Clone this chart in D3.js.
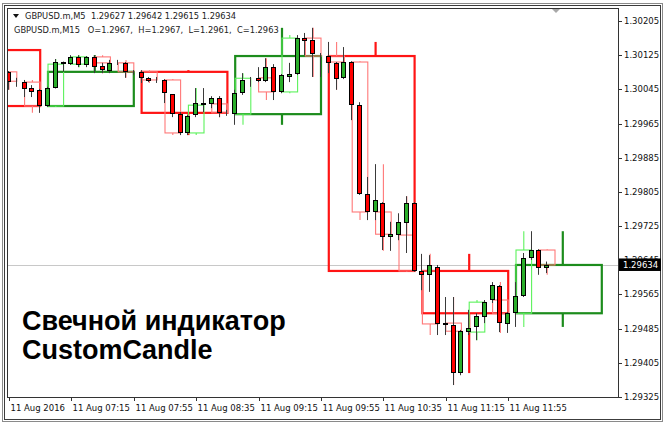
<!DOCTYPE html>
<html><head><meta charset="utf-8">
<script src="https://cdn.jsdelivr.net/npm/d3@7"></script>
<style>body{margin:0;background:#fff}svg{display:block}</style>
</head><body><svg id="c" width="670" height="430"></svg>
<script>
// ---------- data ----------
const headerM5 = "GBPUSD.m,M5  1.29627 1.29642 1.29615 1.29634";
const headerM15 = "GBPUSD.m,M15   O=1.2967,  H=1.2967,  L=1.2961,  C=1.2963";
const titleLines = ["Свечной индикатор", "CustomCandle"];
const lastPrice = 1.29634;

// M5 bars, every 5 minutes starting at 06:30
const m5Start = "06:30";
const m5Open = [1.30086,1.30086,1.30065,1.30062,1.30048,1.30044,
 1.30006,1.30048,1.30109,1.30104,1.30121,1.30102,1.30121,1.30100,1.30088,1.30107,1.30107,1.30086,
 1.30086,1.30072,1.30067,1.30067,1.30034,1.29987,1.29943,1.29985,1.30013,1.30011,1.30025,1.29990,
 1.29987,1.30036,1.30072,1.30072,1.30065,1.30097,1.30039,1.30074,1.30081,1.30165,1.30161,1.30125,
 1.30123,1.30107,1.30072,1.30109,1.30008,1.29800,1.29758,1.29779,1.29699,1.29704,1.29732,1.29779,
 1.29620,1.29611,1.29629,1.29498,1.29493,1.29381,1.29477,1.29489,1.29512,1.29552,1.29584,1.29496,
 1.29521,1.29562,1.29650,1.29669,1.29627];
const m5High = [1.30088,1.30088,1.30072,1.30067,1.30055,1.30046,
 1.30051,1.30116,1.30110,1.30125,1.30125,1.30123,1.30125,1.30107,1.30114,1.30114,1.30109,1.30090,
 1.30090,1.30074,1.30074,1.30069,1.30034,1.29992,1.29985,1.30048,1.30048,1.30029,1.30029,1.29997,
 1.30044,1.30083,1.30074,1.30097,1.30118,1.30104,1.30081,1.30107,1.30172,1.30177,1.30189,1.30130,
 1.30156,1.30109,1.30144,1.30111,1.30015,1.29840,1.29870,1.29781,1.29735,1.29755,1.29795,1.29781,
 1.29660,1.29657,1.29634,1.29559,1.29559,1.29482,1.29529,1.29521,1.29552,1.29594,1.29587,1.29524,
 1.29594,1.29662,1.29713,1.29671,1.29642];
const m5Low = [1.30081,1.30044,1.30051,1.30027,1.30027,1.29990,
 1.30004,1.30047,1.30086,1.30102,1.30097,1.30097,1.30083,1.30083,1.30083,1.30102,1.30072,1.30079,
 1.30060,1.30062,1.30060,1.30013,1.29980,1.29938,1.29938,1.29980,1.29992,1.30001,1.29980,1.29983,
 1.29962,1.30032,1.30051,1.30062,1.30062,1.30020,1.30036,1.30062,1.30079,1.30125,1.30074,1.30074,
 1.30083,1.30044,1.30069,1.29973,1.29798,1.29739,1.29739,1.29669,1.29667,1.29692,1.29662,1.29618,
 1.29575,1.29571,1.29470,1.29470,1.29353,1.29376,1.29470,1.29458,1.29498,1.29545,1.29477,1.29475,
 1.29489,1.29559,1.29646,1.29611,1.29615];
const m5Close = [1.30086,1.30062,1.30064,1.30046,1.30039,1.30006,
 1.30048,1.30109,1.30104,1.30121,1.30102,1.30121,1.30097,1.30090,1.30107,1.30109,1.30086,1.30086,
 1.30072,1.30065,1.30067,1.30036,1.29987,1.29943,1.29983,1.30013,1.30008,1.30025,1.29990,1.29990,
 1.30036,1.30067,1.30071,1.30065,1.30097,1.30039,1.30079,1.30081,1.30165,1.30158,1.30128,1.30123,
 1.30107,1.30069,1.30109,1.30008,1.29800,1.29758,1.29786,1.29699,1.29706,1.29735,1.29779,1.29620,
 1.29611,1.29634,1.29496,1.29493,1.29381,1.29479,1.29486,1.29514,1.29547,1.29587,1.29498,1.29521,
 1.29562,1.29650,1.29669,1.29627,1.29634];

// H1 candles drawn by the indicator
const h1Start = ["06:00","07:00","08:00","09:00","10:00","11:00","12:00"];
const h1Open  = [1.30137,1.30006,1.30086,1.29987,1.30123,1.29620,1.29521];
const h1High  = [1.30150,1.30125,1.30090,1.30189,1.30156,1.29660,1.29713];
const h1Low   = [1.29990,1.30004,1.29938,1.29962,1.29618,1.29381,1.29489];
const h1Close = [1.30006,1.30086,1.29990,1.30123,1.29620,1.29521,1.29634];

const priceTicks = [1.30205,1.30125,1.30045,1.29965,1.29885,1.29805,1.29725,1.29645,1.29565,1.29485,1.29405,1.29325];
const timeTicks = ["06:35","07:15","07:55","08:35","09:15","09:55","10:35","11:15","11:55"];
const timeTickLabels = ["11 Aug 2016","11 Aug 07:15","11 Aug 07:55","11 Aug 08:35","11 Aug 09:15","11 Aug 09:55","11 Aug 10:35","11 Aug 11:15","11 Aug 11:55"];

// ---------- drawing ----------
const toMin = s => (+s.slice(0,2))*60 + (+s.slice(3));
const svg = d3.select("#c");
const P = {l:8, r:618, t:9, b:397};
const x = d3.scaleLinear().domain([toMin("07:00"), toMin("11:55")]).range([48, 508.2]);
const y = d3.scaleLinear().domain([1.29325, 1.30205]).range([397, 21]);
const FONT = "'DejaVu Sans', Tahoma, sans-serif";

svg.append("rect").attr("width",670).attr("height",430).attr("fill","#fff");
// window frame
svg.append("rect").attr("x",2.5).attr("y",3.5).attr("width",660).attr("height",418)
  .attr("fill","none").attr("stroke","#8a8a8a").attr("stroke-width",1);
svg.append("rect").attr("x",4.5).attr("y",5.5).attr("width",656).attr("height",414)
  .attr("fill","none").attr("stroke","#3c3c3c").attr("stroke-width",1);

svg.append("defs").append("clipPath").attr("id","pc").append("rect")
  .attr("x",P.l).attr("y",P.t).attr("width",P.r-P.l).attr("height",P.b-P.t);
const g = svg.append("g").attr("clip-path","url(#pc)");

// current price line
g.append("line").attr("x1",P.l).attr("x2",P.r).attr("y1",Math.round(y(lastPrice))+0.5).attr("y2",Math.round(y(lastPrice))+0.5)
  .attr("stroke","#c8c8c8");

// build M5 records
const t0 = toMin(m5Start);
const m5 = m5Open.map((o,i)=>({t:t0+5*i,o,h:m5High[i],l:m5Low[i],c:m5Close[i]}));
// M15 aggregated from M5
const m15 = d3.groups(m5, d=>Math.floor(d.t/15)).map(([k,arr])=>({
  t:k*15, o:arr[0].o, c:arr[arr.length-1].c,
  h:d3.max(arr,d=>d.h), l:d3.min(arr,d=>d.l)}));
const h1 = h1Start.map((s,i)=>({t:toMin(s),o:h1Open[i],h:h1High[i],l:h1Low[i],c:h1Close[i]}));

function drawBoxes(data, span, wickOff, bull, bear, w){
  data.forEach(d=>{
    const col = d.c >= d.o ? bull : bear;
    const x1 = x(d.t), x2 = x(d.t+span), xm = x(d.t+wickOff);
    const top = y(Math.max(d.o,d.c)), bot = y(Math.min(d.o,d.c));
    g.append("line").attr("x1",xm).attr("x2",xm).attr("y1",y(d.h)).attr("y2",top)
      .attr("stroke",col).attr("stroke-width",w);
    g.append("line").attr("x1",xm).attr("x2",xm).attr("y1",bot).attr("y2",y(d.l))
      .attr("stroke",col).attr("stroke-width",w);
    g.append("rect").attr("x",x1).attr("y",top).attr("width",x2-x1).attr("height",Math.max(0,bot-top))
      .attr("fill","none").attr("stroke",col).attr("stroke-width",w);
  });
}
drawBoxes(h1, 55, 30, "#1c8c1c", "#ff1414", 2.2);
drawBoxes(m15, 10, 5, "#5cf25c", "#ff7878", 1.1);

// M5 candles
m5.forEach(d=>{
  const cx = Math.round(x(d.t));
  g.append("line").attr("x1",cx-0.5).attr("x2",cx-0.5).attr("y1",y(d.h)).attr("y2",y(d.l))
    .attr("stroke","#3a3a3a").attr("stroke-width",1);
  const top = Math.round(y(Math.max(d.o,d.c))), bot = Math.round(y(Math.min(d.o,d.c)));
  g.append("rect").attr("x",cx-2.5).attr("y",top+0.5).attr("width",4).attr("height",Math.max(0,bot-top-1))
    .attr("fill", d.c>d.o ? "#2aae2a" : (d.c<d.o ? "#ff0000" : "#000"))
    .attr("stroke","#000").attr("stroke-width",1);
});

// plot border
svg.append("rect").attr("x",P.l-0.5).attr("y",P.t-0.5).attr("width",P.r-P.l+1).attr("height",P.b-P.t+1)
  .attr("fill","none").attr("stroke","#333");

// price axis
priceTicks.forEach(p=>{
  const yy = Math.round(y(p))+0.5;
  svg.append("line").attr("x1",P.r+0.5).attr("x2",P.r+4).attr("y1",yy).attr("y2",yy).attr("stroke","#333");
  svg.append("text").attr("x",P.r+6).attr("y",yy).attr("dy","0.35em")
    .attr("font-family",FONT).attr("font-size",8.5).attr("fill","#111").text(d3.format(".5f")(p));
});
const ly = y(lastPrice);
svg.append("rect").attr("x",P.r+1).attr("y",ly-6.5).attr("width",42).attr("height",12.5).attr("fill","#000");
svg.append("text").attr("x",P.r+5).attr("y",ly).attr("dy","0.37em").attr("font-family",FONT)
  .attr("font-size",8.5).attr("fill","#fff").text(d3.format(".5f")(lastPrice));

// time axis
timeTicks.forEach((s,i)=>{
  const xx = Math.round(x(toMin(s)))+0.5;
  svg.append("line").attr("x1",xx).attr("x2",xx).attr("y1",P.b).attr("y2",P.b+4).attr("stroke","#333");
  svg.append("text").attr("x",xx+1).attr("y",P.b+14).attr("font-family",FONT).attr("font-size",8.5)
    .attr("fill","#111").text(timeTickLabels[i]);
});

// shift marker
svg.append("path").attr("d","M552,9 L560,9 L556,13 Z").attr("fill","#a8a8a8");

// header
svg.append("path").attr("d","M13,14 L19,14 L16,18 Z").attr("fill","#111");
svg.append("text").attr("x",25).attr("y",19).attr("font-family",FONT).attr("font-size",8.3)
  .attr("fill","#222").attr("xml:space","preserve").style("white-space","pre").text(headerM5);
svg.append("text").attr("x",14).attr("y",32.5).attr("font-family",FONT).attr("font-size",8.3)
  .attr("fill","#222").style("white-space","pre").text(headerM15);

// title
titleLines.forEach((t,i)=>{
  svg.append("text").attr("x",22).attr("y",330+i*29).attr("font-family","Arial, 'Liberation Sans', sans-serif")
    .attr("font-weight","bold").attr("font-size",27).attr("fill","#000").text(t);
});
</script></body></html>
